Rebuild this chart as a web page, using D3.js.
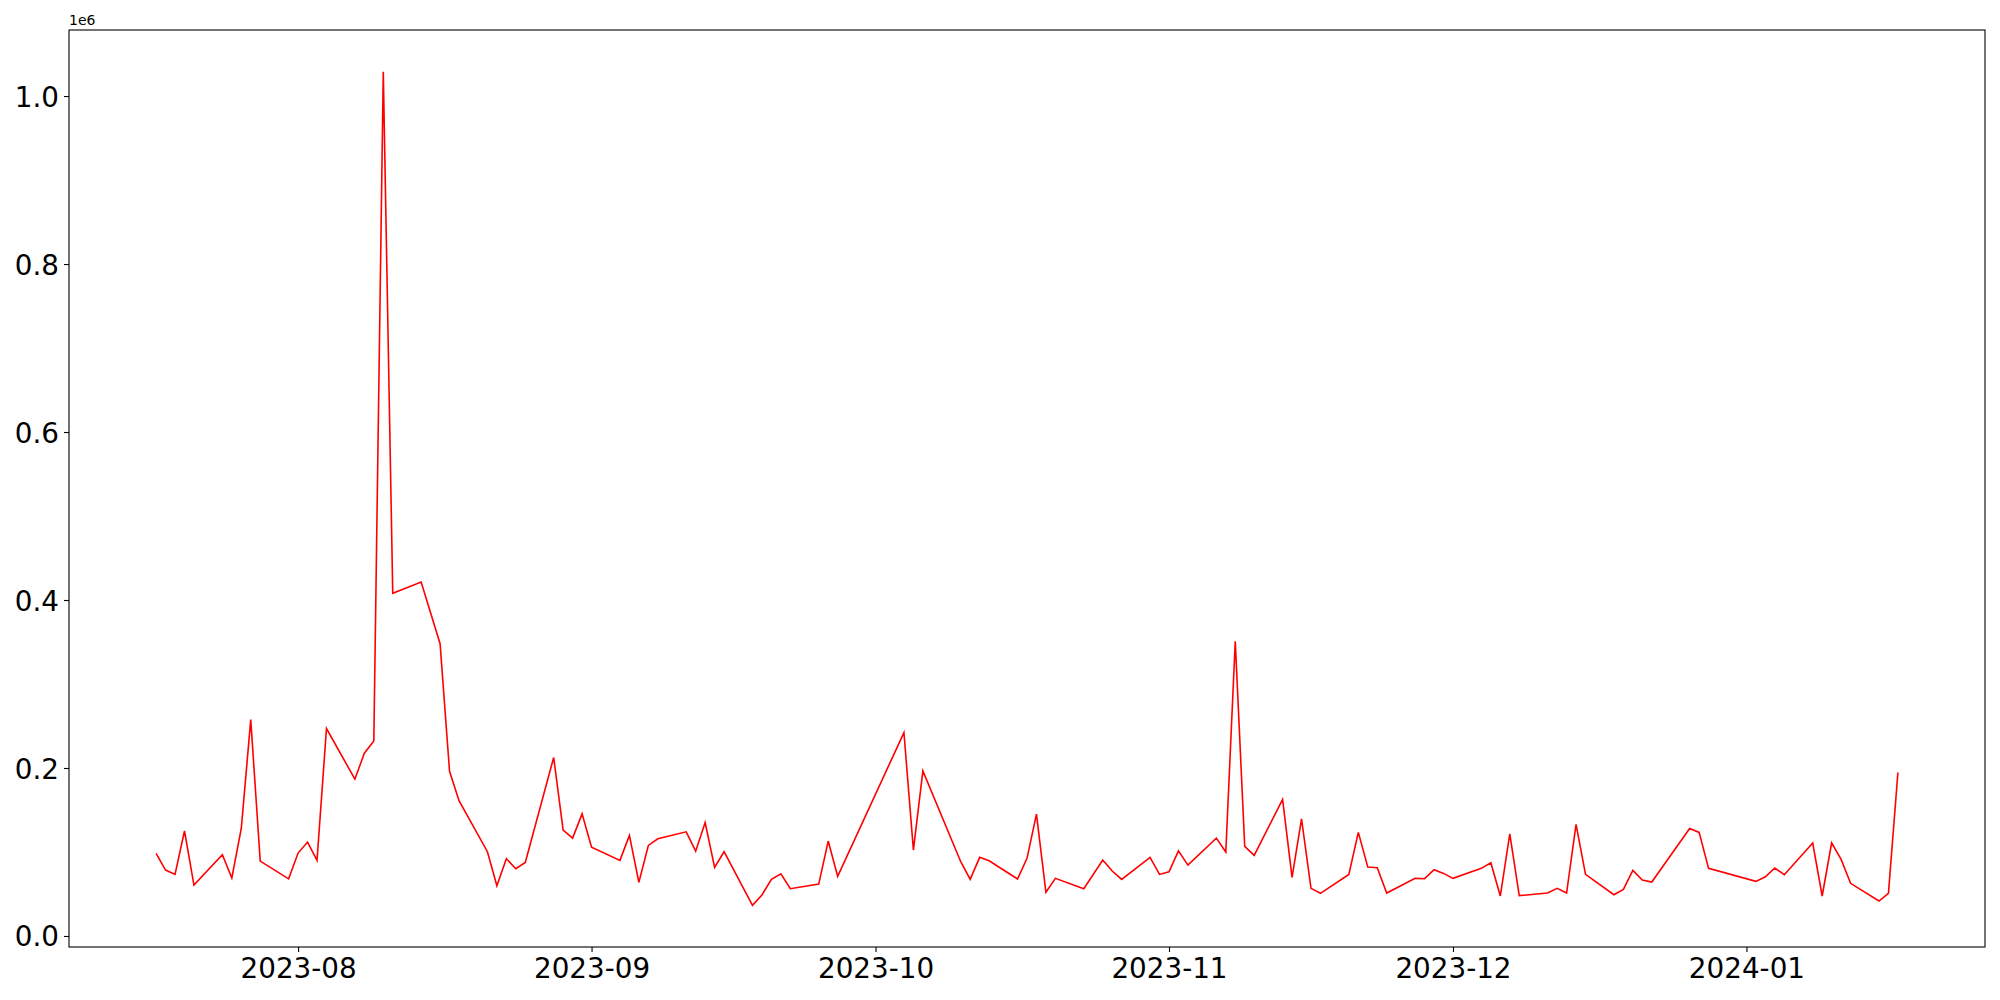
<!DOCTYPE html>
<html>
<head>
<meta charset="utf-8">
<title>Daily series</title>
<script src="https://cdn.jsdelivr.net/npm/d3@7/dist/d3.min.js"></script>
<style>
  body { margin: 0; background: #fff; }
  .tick text { font-family: "DejaVu Sans", sans-serif; font-size: 27.8px; fill: #000; }
  .offset { font-family: "DejaVu Sans", sans-serif; font-size: 14px; fill: #000; }
  .line { fill: none; stroke: red; stroke-width: 1.6px; }
</style>
</head>
<body>
<script>
// dates (trading days) and values
var dates = [
  "2023-07-17","2023-07-18","2023-07-19","2023-07-20","2023-07-21",
  "2023-07-24","2023-07-25","2023-07-26","2023-07-27","2023-07-28",
  "2023-07-31","2023-08-01","2023-08-02","2023-08-03","2023-08-04",
  "2023-08-07","2023-08-08","2023-08-09","2023-08-10","2023-08-11",
  "2023-08-14","2023-08-16","2023-08-17","2023-08-18",
  "2023-08-21","2023-08-22","2023-08-23","2023-08-24","2023-08-25",
  "2023-08-28","2023-08-29","2023-08-30","2023-08-31","2023-09-01",
  "2023-09-04","2023-09-05","2023-09-06","2023-09-07","2023-09-08",
  "2023-09-11","2023-09-12","2023-09-13","2023-09-14","2023-09-15",
  "2023-09-18","2023-09-19","2023-09-20","2023-09-21","2023-09-22",
  "2023-09-25","2023-09-26","2023-09-27",
  "2023-10-04","2023-10-05","2023-10-06",
  "2023-10-10","2023-10-11","2023-10-12","2023-10-13",
  "2023-10-16","2023-10-17","2023-10-18","2023-10-19","2023-10-20",
  "2023-10-23","2023-10-25","2023-10-26","2023-10-27",
  "2023-10-30","2023-10-31","2023-11-01","2023-11-02","2023-11-03",
  "2023-11-06","2023-11-07","2023-11-08","2023-11-09","2023-11-10",
  "2023-11-13","2023-11-14","2023-11-15","2023-11-16","2023-11-17",
  "2023-11-20","2023-11-21","2023-11-22","2023-11-23","2023-11-24",
  "2023-11-27","2023-11-28","2023-11-29","2023-11-30","2023-12-01",
  "2023-12-04","2023-12-05","2023-12-06","2023-12-07","2023-12-08",
  "2023-12-11","2023-12-12","2023-12-13","2023-12-14","2023-12-15",
  "2023-12-18","2023-12-19","2023-12-20","2023-12-21","2023-12-22",
  "2023-12-26","2023-12-27","2023-12-28",
  "2024-01-02","2024-01-03","2024-01-04","2024-01-05",
  "2024-01-08","2024-01-09","2024-01-10","2024-01-11","2024-01-12",
  "2024-01-15","2024-01-16","2024-01-17"
];
var values = [
  98300, 78500, 73300, 125000, 60600,
  96700, 69000, 128000, 257600, 89200,
  68000, 98700, 111800, 90000, 247000,
  186700, 217600, 232200, 1029000, 408000,
  421400, 348000, 196000, 161000,
  100300, 59800, 91900, 80000, 87600,
  212500, 126000, 116500, 145400, 105800,
  90000, 119700, 63800, 107800, 115700,
  124000, 101000, 135000, 81700, 100300,
  36500, 48800, 67400, 74100, 56300,
  61800, 113000, 71000,
  242200, 102300, 196600,
  88400, 67400, 93600, 89600,
  67800, 92400, 145000, 52000, 68600,
  56300, 90400, 77300, 67400,
  93600, 73300, 76500, 101400, 84400,
  116500, 99900, 350800, 106600, 96000,
  162500, 69800, 139500, 56700, 50800,
  73300, 123300, 82000, 81200, 51100,
  68600, 68200, 78900, 74500, 68600,
  80500, 87200, 47600, 121700, 48000,
  51100, 56700, 51100, 132800, 73300,
  49100, 55500, 78100, 66600, 64200,
  128000, 123300, 80500,
  65000, 70500, 80900, 72900,
  110600, 47600, 111000, 91200, 62700,
  41600, 50800, 194600
];
var yTicks = [0, 200000, 400000, 600000, 800000, 1000000];

var width = 2000, height = 1000;
var margin = {top: 30, right: 15, bottom: 53, left: 69};

var parse = d3.utcParse("%Y-%m-%d");
var data = dates.map(function(d, i) { return {date: parse(d), value: values[i]}; });

var svg = d3.select("body").append("svg")
    .attr("width", width)
    .attr("height", height);

// matplotlib style 5% margins
var xExt = d3.extent(data, function(d) { return d.date; });
var xPad = (xExt[1] - xExt[0]) * 0.05;
var yExt = d3.extent(data, function(d) { return d.value; });
var yPad = (yExt[1] - yExt[0]) * 0.05;

var x = d3.scaleUtc()
    .domain([new Date(+xExt[0] - xPad), new Date(+xExt[1] + xPad)])
    .range([margin.left, width - margin.right]);

var y = d3.scaleLinear()
    .domain([yExt[0] - yPad, yExt[1] + yPad])
    .range([height - margin.bottom, margin.top]);

var line = d3.line()
    .x(function(d) { return x(d.date); })
    .y(function(d) { return y(d.value); });

svg.append("path")
    .datum(data)
    .attr("class", "line")
    .attr("d", line);

// axes
var xAxis = svg.append("g")
    .attr("transform", "translate(0," + (height - margin.bottom) + ")")
    .call(d3.axisBottom(x)
        .ticks(d3.utcMonth.every(1))
        .tickFormat(d3.utcFormat("%Y-%m"))
        .tickSize(5)
        .tickPadding(5)
        .tickSizeOuter(0));

var yAxis = svg.append("g")
    .attr("transform", "translate(" + margin.left + ",0)")
    .call(d3.axisLeft(y)
        .tickValues(yTicks)
        .tickFormat(function(d) { return (d / 1e6).toFixed(1); })
        .tickSize(5)
        .tickPadding(5)
        .tickSizeOuter(0));

svg.selectAll(".domain").remove();
svg.selectAll(".tick line").attr("stroke", "#000").attr("stroke-width", 1.1);
xAxis.selectAll("text").attr("dy", "0.76em");
yAxis.selectAll("text").attr("dy", "0.36em");

// frame
svg.append("rect")
    .attr("x", margin.left)
    .attr("y", margin.top)
    .attr("width", width - margin.left - margin.right)
    .attr("height", height - margin.top - margin.bottom)
    .attr("fill", "none")
    .attr("stroke", "#000")
    .attr("stroke-width", 1.1);

svg.append("text")
    .attr("class", "offset")
    .attr("x", margin.left)
    .attr("y", margin.top - 5)
    .text("1e6");
</script>
</body>
</html>
